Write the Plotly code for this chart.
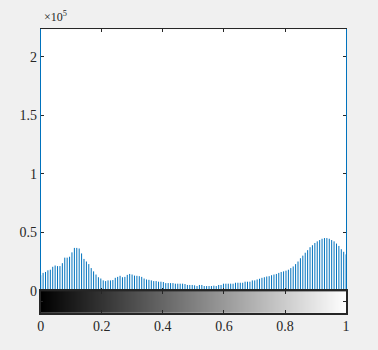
import numpy as np
import plotly.graph_objects as go

# histogram counts (x 1e5), 128 bins over intensity [0, 1]
counts_1e5 = [
    0.136, 0.156, 0.164, 0.178, 0.183, 0.208, 0.219, 0.214, 0.214, 0.239,
    0.286, 0.286, 0.294, 0.331, 0.369, 0.369, 0.364, 0.322, 0.275, 0.253,
    0.231, 0.197, 0.169, 0.142, 0.119, 0.108, 0.092, 0.086, 0.092, 0.092,
    0.095, 0.114, 0.122,
    0.131, 0.119, 0.122, 0.139, 0.147, 0.142, 0.133, 0.131, 0.128, 0.122,
    0.108, 0.100, 0.097, 0.092, 0.086, 0.086, 0.081, 0.081, 0.078, 0.069,
    0.069, 0.069, 0.069, 0.064, 0.064, 0.064, 0.064, 0.061, 0.053, 0.053,
    0.053, 0.050, 0.044, 0.053, 0.053, 0.044, 0.044, 0.044, 0.044, 0.047,
    0.044, 0.053, 0.053, 0.064, 0.064, 0.064, 0.064, 0.064, 0.072, 0.072,
    0.072, 0.072, 0.081, 0.081, 0.081, 0.092, 0.092, 0.100,
    0.106, 0.114, 0.119, 0.125, 0.128, 0.136, 0.142, 0.147, 0.156, 0.164,
    0.169, 0.175, 0.183, 0.197, 0.211, 0.231, 0.253, 0.281, 0.303, 0.328,
    0.350, 0.375, 0.392, 0.411, 0.425, 0.436, 0.447, 0.453, 0.453, 0.447,
    0.436, 0.425, 0.406, 0.386, 0.358, 0.336, 0.314,
]
counts = [c * 1e5 for c in counts_1e5]
bins = np.linspace(0, 1, len(counts))

y_tickvals = [0, 50000, 100000, 150000, 200000]
y_ticktext = ["0", "0.5", "1", "1.5", "2"]
x_tickvals = [0, 0.2, 0.4, 0.6, 0.8, 1]
x_ticktext = ["0", "0.2", "0.4", "0.6", "0.8", "1"]

stem_color = "#0072BD"
font_fam = "Liberation Serif"

# stem segments
sx, sy = [], []
for b, c in zip(bins, counts):
    sx += [b, b, None]
    sy += [0, c, None]

fig = go.Figure()
fig.add_trace(go.Scatter(x=sx, y=sy, mode="lines",
                         line=dict(color=stem_color, width=1),
                         hoverinfo="skip", showlegend=False,
                         xaxis="x", yaxis="y"))

# grayscale colorbar strip
grad = np.linspace(0, 1, 256)
fig.add_trace(go.Heatmap(x=grad, y=[0.5], z=[grad],
                         colorscale=[[0, "black"], [1, "white"]],
                         showscale=False, hoverinfo="skip",
                         xaxis="x2", yaxis="y2"))

xdom = [37.5 / 378, 349.5 / 378]
fig.update_layout(
    width=378, height=350,
    margin=dict(l=0, r=0, t=0, b=0),
    paper_bgcolor="#f0f0f0",
    plot_bgcolor="white",
    font=dict(family=font_fam, size=14, color="#262626"),
    xaxis=dict(domain=xdom, range=[0, 1], tickvals=x_tickvals,
               showticklabels=False, ticks="inside", ticklen=3,
               tickcolor="#262626", showline=True, linecolor="#262626",
               linewidth=1, mirror="allticks", showgrid=False,
               zeroline=False, anchor="y"),
    yaxis=dict(domain=[1 - 298 / 350, 1 - 30 / 350], range=[0, 223300],
               tickvals=y_tickvals, ticktext=y_ticktext,
               ticks="inside", ticklen=3, tickcolor="#262626",
               showline=True, linecolor=stem_color, linewidth=1,
               mirror="allticks", showgrid=False, zeroline=False,
               anchor="x"),
    xaxis2=dict(domain=xdom, range=[0, 1], tickvals=x_tickvals,
                ticktext=x_ticktext, ticks="inside", ticklen=3,
                tickcolor="#262626", showline=True, linecolor="#262626",
                linewidth=1.5, mirror="allticks", showgrid=False,
                zeroline=False, anchor="y2"),
    yaxis2=dict(domain=[1 - 320 / 350, 1 - 298 / 350], range=[0, 1],
                tickvals=[0.5], showticklabels=False, ticks="inside",
                ticklen=3, tickcolor="#262626", showline=True,
                linecolor="#262626", linewidth=1.5, mirror="allticks",
                showgrid=False, zeroline=False, anchor="x2"),
    annotations=[dict(text="×10<sup>5</sup>", x=39 / 378, y=1 - 27 / 350,
                      xref="paper", yref="paper", xanchor="left",
                      yanchor="bottom", showarrow=False,
                      font=dict(family=font_fam, size=12, color="#262626"))],
)

post = (
    "document.body.style.margin='0';"
    "document.body.style.overflow='hidden';"
    "document.body.style.background='#f0f0f0';"
)
fig.write_html("out.html", config={"displayModeBar": False}, post_script=post)
